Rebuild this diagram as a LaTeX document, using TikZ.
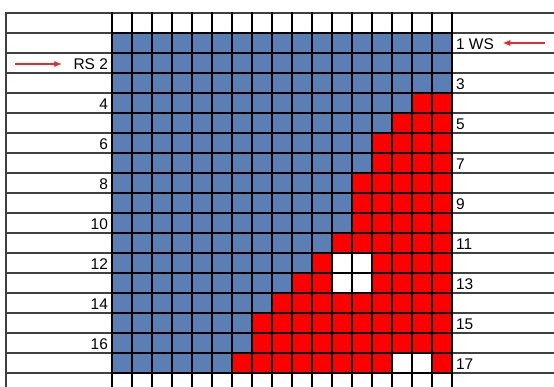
\documentclass[tikz,border=0pt]{standalone}
\usepackage{fontspec}
\setmainfont{Liberation Sans}
\usetikzlibrary{arrows, arrows.meta, positioning}

\definecolor{wsblue}{RGB}{91,127,181}
\definecolor{wsred}{RGB}{255,0,0}
\definecolor{arrred}{RGB}{225,45,45}

\begin{document}
\begin{tikzpicture}[x=0.025cm, y=-0.025cm, >=latex']
        % Stiluri
        \tikzstyle{gridline} = [black, line width=0.9pt]
        \tikzstyle{rowline} = [black!75, line width=1pt]
        \tikzstyle{frame} = [black, line width=1.6pt]
        \tikzstyle{lbl} = [font=\fontsize{11}{13}\selectfont, inner sep=2pt]
        \tikzstyle{marker} = [-{Latex[length=5.5pt, width=4.5pt]}, arrred, line width=0.9pt]

        \useasboundingbox (0,0) rectangle (554,387);

        % --- Celule ---
        \fill [wsblue] (112,33) rectangle (452,373);
        \foreach \r/\f in {4/16, 5/15, 6/14, 7/14, 8/13, 9/13, 10/13, 11/12,
                           12/11, 13/10, 14/9, 15/8, 16/8, 17/7}
            \fill [wsred] ({92+20*\f},{13+20*\r}) rectangle (452,{33+20*\r});
        \foreach \c/\r in {12/12, 13/12, 12/13, 13/13, 15/17, 16/17}
            \fill [white] ({92+20*\c},{13+20*\r}) rectangle ({112+20*\c},{33+20*\r});

        % --- Linii ---
        \foreach \k in {0,...,18}
            \draw [rowline] (6,{13+20*\k}) -- (554,{13+20*\k});
        \draw [rowline] (6,12) -- (6,387);
        \foreach \k in {0,...,17}
            \draw [gridline] ({112+20*\k},12) -- ({112+20*\k},387);
        \foreach \k in {0,...,17}
            \draw [gridline] (112,{33+20*\k}) -- (452,{33+20*\k});
        \draw [frame] (112,33) rectangle (452,373);

        % --- Etichete (stanga) ---
        \node [lbl, anchor=east] (row2) at (111,64) {RS 2};
        \foreach \k in {4,6,...,16}
            \node [lbl, anchor=east] (row\k) at (111,{24+20*\k}) {\k};

        % --- Etichete (dreapta) ---
        \node [lbl, anchor=west] (row1) at (453,44) {1 WS};
        \foreach \k in {3,5,...,17}
            \node [lbl, anchor=west] (row\k) at (453,{24+20*\k}) {\k};

        % --- Sageti ---
        \coordinate (rsin) at (15,64);
        \coordinate (wsin) at (545,43);
        \draw [marker, shorten >=6pt] (rsin) -- (rsin -| row2.west);
        \draw [marker, shorten >=4pt] (wsin) -- (wsin -| row1.east);

    \end{tikzpicture}
\end{document}
